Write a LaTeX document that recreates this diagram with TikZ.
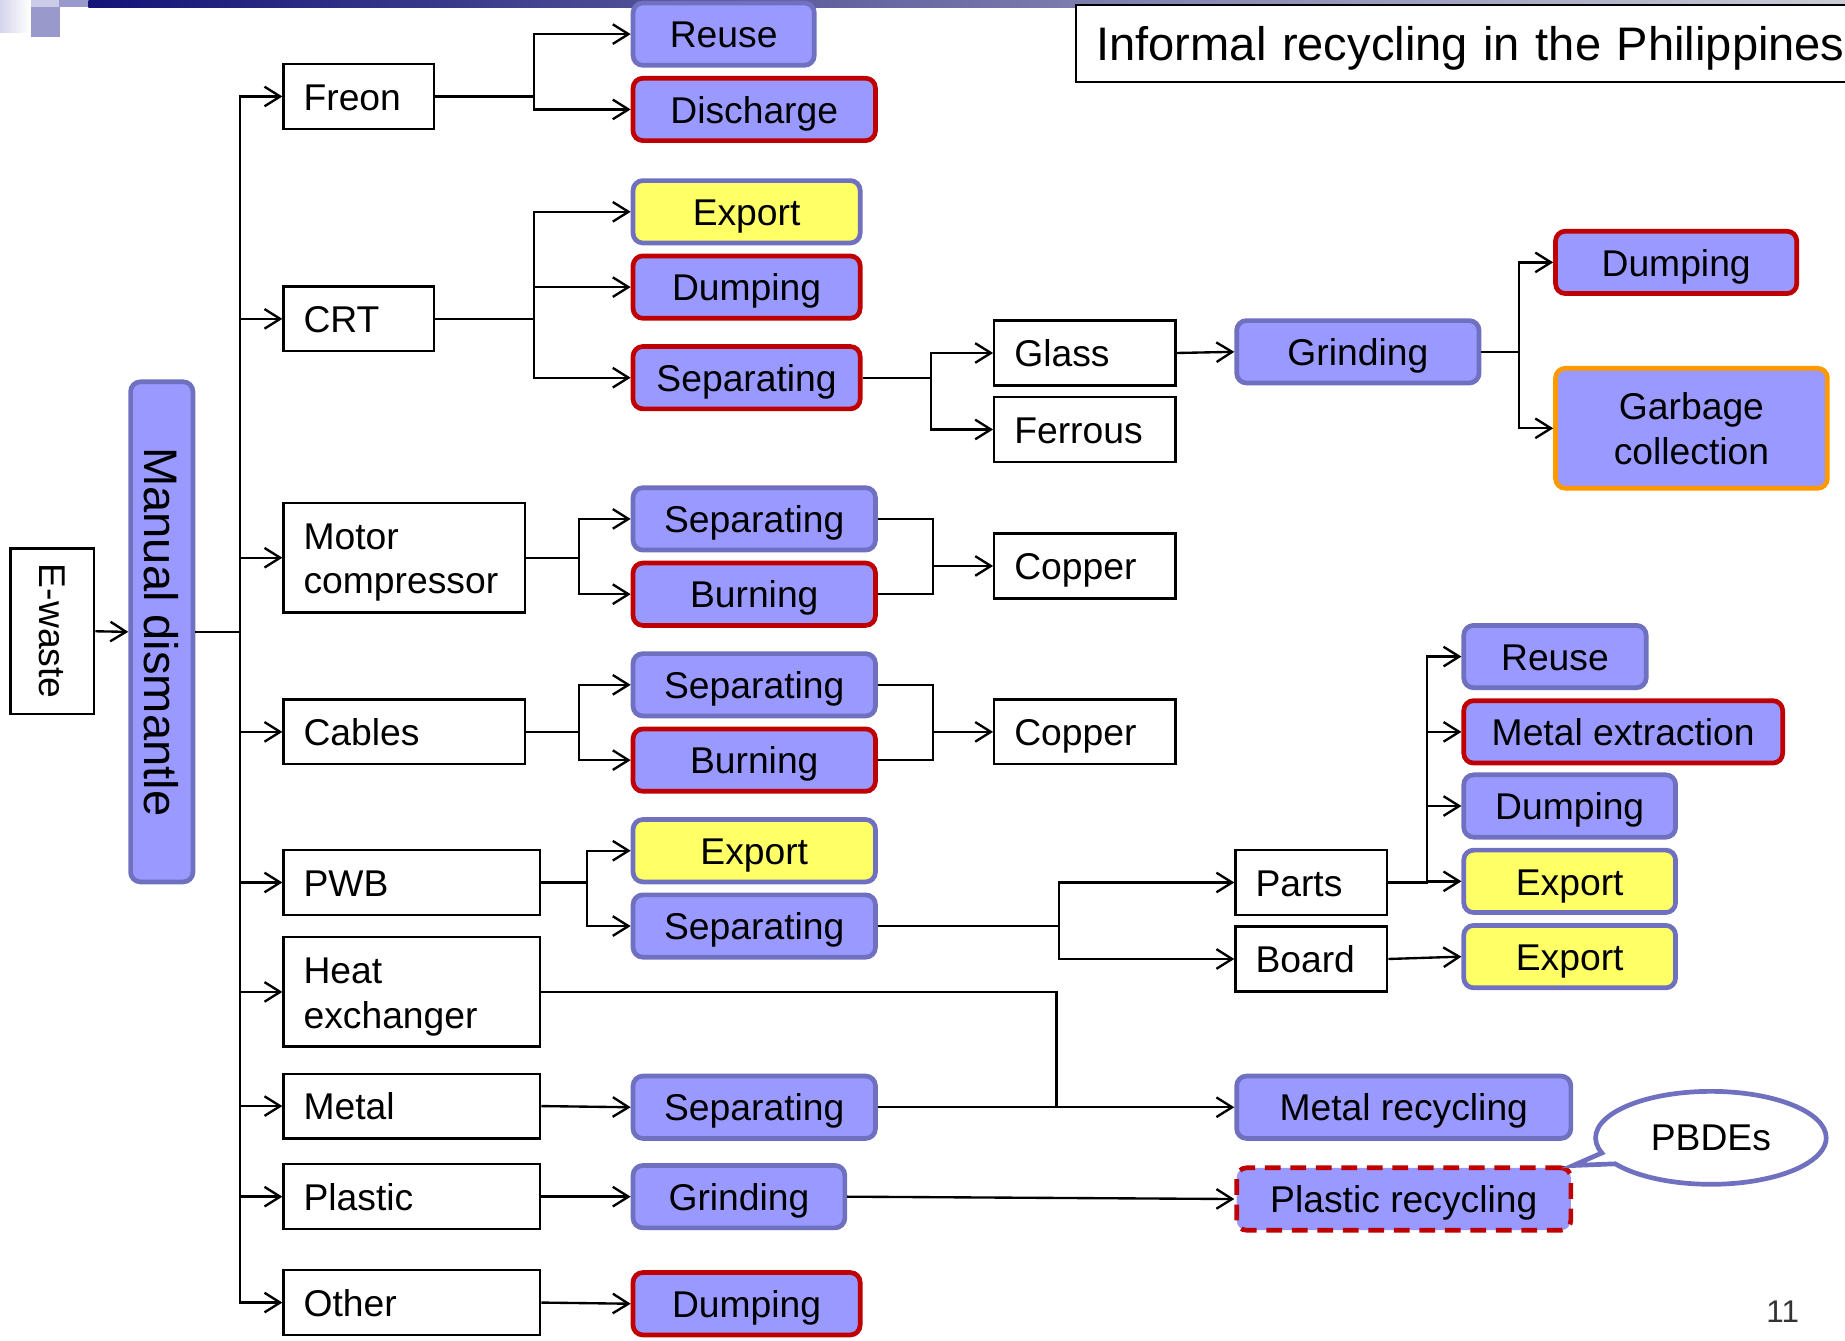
\documentclass[tikz,border=0pt]{standalone}
\usepackage{fontspec}
\setmainfont{Liberation Sans}
\usepackage{xcolor}
\usepackage{tikz}
\usetikzlibrary{arrows.meta}
\usetikzlibrary{shapes.callouts}

\definecolor{procfill}{RGB}{153,153,255}
\definecolor{procblue}{RGB}{112,112,192}
\definecolor{hazred}{RGB}{192,0,0}
\definecolor{expyellow}{RGB}{255,255,102}
\definecolor{garbageorange}{RGB}{255,153,0}
\definecolor{decoedge}{RGB}{212,212,236}
\definecolor{decopale}{RGB}{204,204,234}
\definecolor{decomid}{RGB}{153,153,204}
\definecolor{decodark}{RGB}{20,20,120}
\definecolor{decofade}{RGB}{204,204,214}

\newlength\unitpx
\setlength\unitpx{0.6pt}
\newcommand\boxfont{\fontsize{19}{22.8}\selectfont}
\newcommand\headfont{\fontsize{24}{29}\selectfont}
\newcommand\pagefont{\fontsize{16}{19}\selectfont}

\begin{document}
\begin{tikzpicture}[x=0.6pt, y=-0.6pt, >={Straight Barb[length=8pt,width=10pt]},
  every node/.style={font=\boxfont, text=black},
  link/.style={line width=1.2pt},
  plain/.style={draw, line width=1.2pt, fill=white, anchor=west, minimum height=55\unitpx, inner xsep=17\unitpx, inner ysep=0pt, align=left, text height=14pt, text depth=0pt},
  proc/.style={draw=procblue, line width=2.4pt, fill=procfill, rounded corners=5pt, anchor=west, minimum height=53\unitpx, inner sep=0pt, align=center, text height=14pt, text depth=0pt},
  hazard/.style={proc, draw=hazred},
  exported/.style={proc, fill=expyellow}]

\useasboundingbox (0,0) rectangle (1568,1139);
\clip (0,0) rectangle (1568,1139);

% slide decoration
\shade[left color=decoedge, right color=white] (0,0) rectangle (25.5,28);
\fill[decopale] (26,0) rectangle (50,6);
\fill[decomid] (50,0) rectangle (75,6);
\fill[decomid] (26,6) rectangle (51,31.5);
\shade[left color=decodark, right color=decofade] (75,0) rectangle (1568,6);

\node (title) [draw, line width=1pt, fill=white, anchor=west, minimum height=66\unitpx, text width=700\unitpx, inner xsep=17\unitpx, inner ysep=0pt, align=left, text height=17.5pt, text depth=0pt, font=\headfont] at (914,37) {Informal recycling in the Philippines};

\node (ewaste) [draw, line width=1.2pt, fill=white, rotate=-90, minimum width=141\unitpx, minimum height=71\unitpx] at (44.5,536.5) {E-waste};
\node (manual) [proc, anchor=center, rotate=-90, minimum width=425\unitpx, minimum height=53\unitpx, text height=17.5pt, font=\headfont] at (137.5,537) {Manual dismantle};

% parts taken out by hand
\node (freon) [plain, text width=94\unitpx] at (240,82) {Freon};
\node (crt) [plain, text width=94\unitpx] at (240,271) {CRT};
\node (motor) [plain, text width=171\unitpx, text depth=22.8pt, minimum height=93\unitpx] at (240,474) {Motor\\compressor};
\node (cables) [plain, text width=171\unitpx] at (240,622) {Cables};
\node (pwb) [plain, text width=184\unitpx] at (240,750) {PWB};
\node (heat) [plain, text width=184\unitpx, text depth=22.8pt, minimum height=93\unitpx] at (240,843) {Heat\\exchanger};
\node (metal) [plain, text width=184\unitpx] at (240,940) {Metal};
\node (plastic) [plain, text width=184\unitpx] at (240,1017) {Plastic};
\node (other) [plain, text width=184\unitpx] at (240,1107) {Other};

% first treatment
\node (freon reuse) [proc, minimum width=154\unitpx] at (536,29) {Reuse};
\node (freon discharge) [hazard, minimum width=206\unitpx] at (536,93) {Discharge};
\node (crt export) [exported, minimum width=193\unitpx] at (536,180) {Export};
\node (crt dumping) [hazard, minimum width=193\unitpx] at (536,244) {Dumping};
\node (crt separating) [hazard, minimum width=193\unitpx] at (536,321) {Separating};
\node (motor separating) [proc, minimum width=206\unitpx] at (536,441) {Separating};
\node (motor burning) [hazard, minimum width=206\unitpx] at (536,505) {Burning};
\node (cables separating) [proc, minimum width=206\unitpx] at (536,582) {Separating};
\node (cables burning) [hazard, minimum width=206\unitpx] at (536,646) {Burning};
\node (pwb export) [exported, minimum width=206\unitpx] at (536,723) {Export};
\node (pwb separating) [proc, minimum width=206\unitpx] at (536,787) {Separating};
\node (metal separating) [proc, minimum width=206\unitpx] at (536,941) {Separating};
\node (plastic grinding) [proc, minimum width=180\unitpx] at (536,1017) {Grinding};
\node (other dumping) [hazard, minimum width=193\unitpx] at (536,1108) {Dumping};

% materials
\node (glass) [plain, text width=120\unitpx] at (844,300) {Glass};
\node (ferrous) [plain, text width=120\unitpx] at (844,365) {Ferrous};
\node (motor copper) [plain, text width=120\unitpx] at (844,481) {Copper};
\node (cables copper) [plain, text width=120\unitpx] at (844,622) {Copper};
\node (parts) [plain, text width=95\unitpx] at (1049,750) {Parts};
\node (board) [plain, text width=95\unitpx] at (1049,815) {Board};

\node (glass grinding) [proc, minimum width=206\unitpx] at (1049,299) {Grinding};
\node (metal recycling) [proc, minimum width=284\unitpx] at (1049,941) {Metal recycling};
\node (plastic recycling) [proc, draw=hazred, dashed, dash pattern=on 8pt off 5pt, minimum width=284\unitpx] at (1049,1019) {Plastic recycling};

% end points
\node (glass dumping) [hazard, minimum width=205\unitpx] at (1320,223) {Dumping};
\node (garbage) [proc, draw=garbageorange, text height=, minimum width=231\unitpx, minimum height=102\unitpx] at (1320,364) {Garbage\\collection};
\node (parts reuse) [proc, minimum width=155\unitpx] at (1242,558) {Reuse};
\node (parts extraction) [hazard, minimum width=271\unitpx] at (1242,622) {Metal extraction};
\node (parts dumping) [proc, minimum width=180\unitpx] at (1242,685) {Dumping};
\node (parts export) [exported, minimum width=180\unitpx] at (1242,749) {Export};
\node (board export) [exported, minimum width=180\unitpx] at (1242,813) {Export};

\node (pbdes) [ellipse callout, draw=procblue, line width=2.4pt, fill=white, minimum width=196\unitpx, minimum height=79\unitpx, inner sep=0pt, callout absolute pointer={(plastic recycling.north east)}] at (1454,967) {PBDEs};

\node (page number) [font=\pagefont, text=black!80] at (1515,1115) {11};

\coordinate (motor join) at (793,481);
\coordinate (cables join) at (793,622);
\coordinate (heat join) at (898,941);

\draw [link, ->] (ewaste.north) -- (manual.south);

\draw [link, ->] (manual.north) -- ++(38,0) |- (freon.west);
\draw [link, ->] (manual.north) -- ++(38,0) |- (crt.west);
\draw [link, ->] (manual.north) -- ++(38,0) |- (motor.west);
\draw [link, ->] (manual.north) -- ++(38,0) |- (cables.west);
\draw [link, ->] (manual.north) -- ++(38,0) |- (pwb.west);
\draw [link, ->] (manual.north) -- ++(38,0) |- (heat.west);
\draw [link, ->] (manual.north) -- ++(38,0) |- (metal.west);
\draw [link, ->] (manual.north) -- ++(38,0) |- (plastic.west);
\draw [link, ->] (manual.north) -- ++(38,0) |- (other.west);

\draw [link, ->] (freon.east) -- ++(84,0) |- (freon reuse.west);
\draw [link, ->] (freon.east) -- ++(84,0) |- (freon discharge.west);

\draw [link, ->] (crt.east) -- ++(84,0) |- (crt export.west);
\draw [link, ->] (crt.east) -- ++(84,0) |- (crt dumping.west);
\draw [link, ->] (crt.east) -- ++(84,0) |- (crt separating.west);
\draw [link, ->] (crt separating.east) -- ++(58,0) |- (glass.west);
\draw [link, ->] (crt separating.east) -- ++(58,0) |- (ferrous.west);
\draw [link, ->] (glass.east) -- (glass grinding.west);
\draw [link, ->] (glass grinding.east) -- ++(32,0) |- (glass dumping.west);
\draw [link, ->] (glass grinding.east) -- ++(32,0) |- (garbage.west);

\draw [link, ->] (motor.east) -- ++(45,0) |- (motor separating.west);
\draw [link, ->] (motor.east) -- ++(45,0) |- (motor burning.west);
\draw [link] (motor separating.east) -| (motor join);
\draw [link] (motor burning.east) -| (motor join);
\draw [link, ->] (motor join) -- (motor copper.west);

\draw [link, ->] (cables.east) -- ++(45,0) |- (cables separating.west);
\draw [link, ->] (cables.east) -- ++(45,0) |- (cables burning.west);
\draw [link] (cables separating.east) -| (cables join);
\draw [link] (cables burning.east) -| (cables join);
\draw [link, ->] (cables join) -- (cables copper.west);

\draw [link, ->] (pwb.east) -- ++(39,0) |- (pwb export.west);
\draw [link, ->] (pwb.east) -- ++(39,0) |- (pwb separating.west);
\draw [link, ->] (pwb separating.east) -- ++(154,0) |- (parts.west);
\draw [link, ->] (pwb separating.east) -- ++(154,0) |- (board.west);
\draw [link, ->] (parts.east) -- ++(33,0) |- (parts reuse.west);
\draw [link, ->] (parts.east) -- ++(33,0) |- (parts extraction.west);
\draw [link, ->] (parts.east) -- ++(33,0) |- (parts dumping.west);
\draw [link, ->] (parts.east) -- ++(33,0) |- (parts export.west);
\draw [link, ->] (board.east) -- (board export.west);

\draw [link] (heat.east) -| (heat join);
\draw [link, ->] (metal.east) -- (metal separating.west);
\draw [link, ->] (metal separating.east) -- (metal recycling.west);
\draw [link, ->] (plastic.east) -- (plastic grinding.west);
\draw [link, ->] (plastic grinding.east) -- (plastic recycling.west);
\draw [link, ->] (other.east) -- (other dumping.west);

\end{tikzpicture}
\end{document}
